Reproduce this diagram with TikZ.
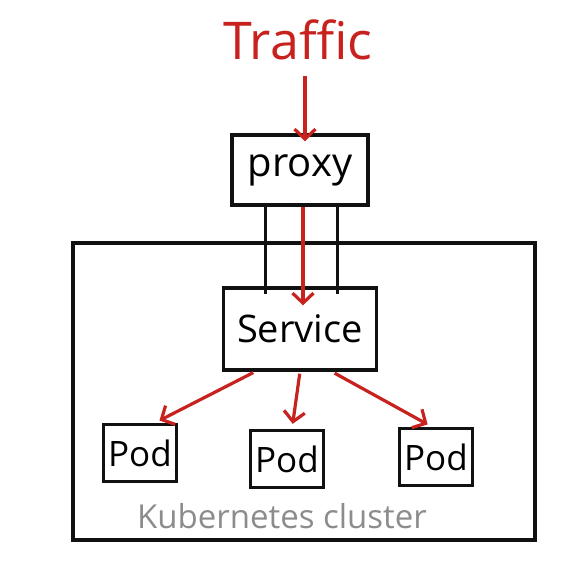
\documentclass[tikz,border=0pt]{standalone}
\usepackage{fontspec}
\setmainfont{Open Sans}
\usepackage{tikz}
\usepackage{xcolor}
\usetikzlibrary{arrows.meta,positioning}
\definecolor{ink}{HTML}{111111}
\definecolor{traffred}{HTML}{C8221E}
\definecolor{labelgray}{HTML}{8C8C8C}
\tikzset{
  sketchbox/.style={draw=ink,line width=3.4pt,inner sep=0pt,align=center},
  podbox/.style={sketchbox,minimum width=73pt,minimum height=57pt,
                 font=\fontsize{35}{37}\selectfont},
  wire/.style={draw=ink,line width=3pt},
  redarr/.style={-{Straight Barb[length=10pt,width=21pt]},line width=3.2pt,color=traffred}
}
\begin{document}
\begin{tikzpicture}[x=1pt,y=-1pt]
      \useasboundingbox (0,0) rectangle (580,562);

      \node[font=\fontsize{52}{54}\selectfont,text=traffred] (traffic) at (298,40) {Traffic};
      \node[sketchbox,minimum width=136pt,minimum height=70pt,
            font=\fontsize{40}{42}\selectfont] (proxy) at (300,170) {proxy};

      \node[sketchbox,minimum width=462pt,minimum height=297pt] (cluster) at (304,391.5) {};
      \node[font=\fontsize{33}{35}\selectfont,text=labelgray] (clustername) at (282,516)
        {Kubernetes cluster};

      \node[sketchbox,fill=white,minimum width=153pt,minimum height=82pt,
            font=\fontsize{38}{40}\selectfont] (service) at (300,329) {Service};

      \node[podbox] (pod1) at (140,453) {Pod};
      \node[podbox] (pod2) at (287,459) {Pod};
      \node[podbox] (pod3) at (436,457) {Pod};

      % proxy wires into the cluster
      \draw[wire,shorten <=-4pt,shorten >=-8pt] ([xshift=-35]proxy.south) -- ([xshift=-35]service.north);
      \draw[wire,shorten <=-4pt,shorten >=-8pt] ([xshift=37]proxy.south) -- ([xshift=37]service.north);

      \draw[redarr,shorten <=12pt,shorten >=-8pt] ([xshift=7]traffic.south) -- ([xshift=5]proxy.north);
      \draw[redarr,shorten >=-19pt] ([xshift=3]proxy.south) -- ([xshift=3]service.north);

      \draw[redarr,shorten <=2pt,shorten >=5pt] ([xshift=-45]service.south) -- ([xshift=15]pod1.north);
      \draw[redarr,shorten <=2pt,shorten >=5pt] (service.south) -- ([xshift=5]pod2.north);
      \draw[redarr,shorten <=3pt,shorten >=5pt] ([xshift=32]service.south) -- ([xshift=-4]pod3.north);
    \end{tikzpicture}
\end{document}
